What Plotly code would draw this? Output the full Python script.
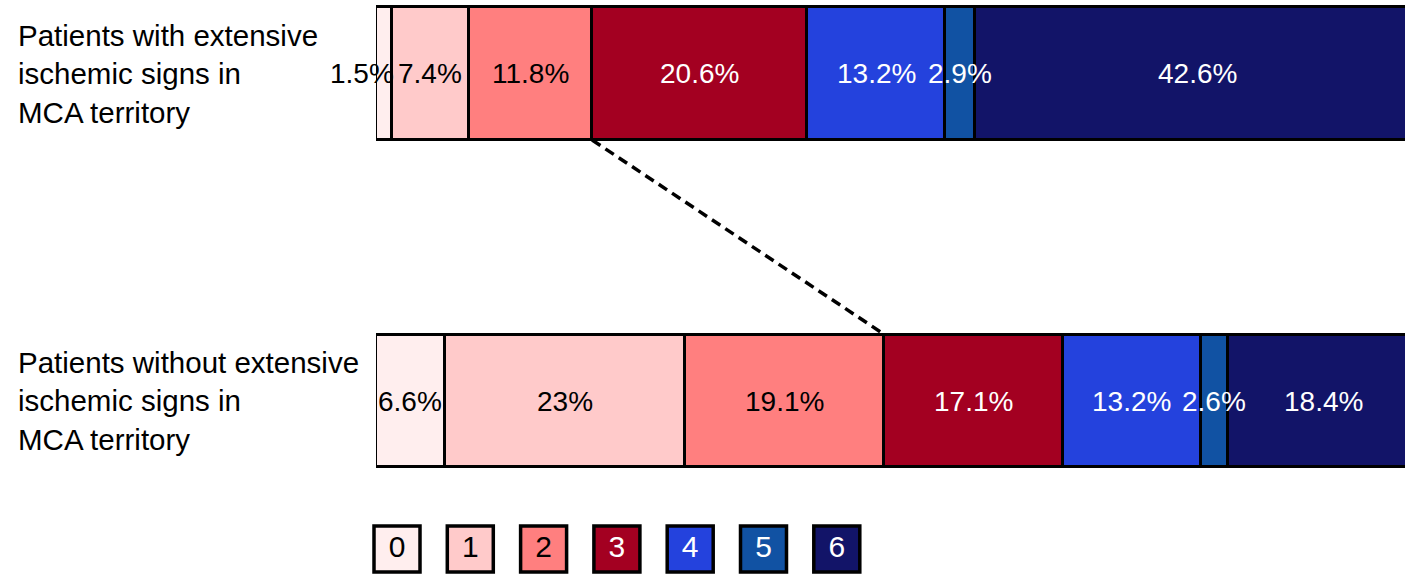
import plotly.graph_objects as go

# ---- data ----
row_labels = [
    "Patients with extensive<br>ischemic signs in<br>MCA territory",
    "Patients without extensive<br>ischemic signs in<br>MCA territory",
]
scores = ["0", "1", "2", "3", "4", "5", "6"]
with_signs = [1.5, 7.4, 11.8, 20.6, 13.2, 2.9, 42.6]
without_signs = [6.6, 23, 19.1, 17.1, 13.2, 2.6, 18.4]

colors = ["#FFEEEE", "#FFCACA", "#FF7F7F", "#A30021", "#2442DD", "#1152A3", "#121468"]
text_colors = ["black", "black", "black", "white", "white", "white", "white"]

FONT = "Liberation Sans, Arial, sans-serif"
W, H = 1405, 576
x0_px = 376
px_per_pct = 10.44
row_y = [1, 0]            # top row, bottom row
bar_w = 0.406
px_per_unit = 327.5
y_top = 1 + 73.5 / px_per_unit
y_bot = y_top - H / px_per_unit

series = [with_signs, without_signs]

fig = go.Figure()
for i, s in enumerate(scores):
    fig.add_trace(go.Bar(
        orientation="h",
        x=[with_signs[i], without_signs[i]],
        y=row_y,
        width=bar_w,
        name=s,
        marker=dict(color=colors[i], line=dict(color="black", width=3.5)),
        textposition="none",
        hoverinfo="skip",
        showlegend=False,
    ))

annotations = []
for r, vals in enumerate(series):
    cum = 0
    for i, v in enumerate(vals):
        tiny = v < 2
        annotations.append(dict(
            x=(cum + v) if tiny else (cum + v / 2), y=row_y[r], xref="x", yref="y",
            xanchor="right" if tiny else "center",
            xshift=4 if tiny else 0,
            text=f"{v:g}%", showarrow=False,
            font=dict(family=FONT, size=28, color=text_colors[i]),
        ))
        cum += v
    annotations.append(dict(
        x=16 / W, y=row_y[r], xref="paper", yref="y",
        xanchor="left", yanchor="middle", align="left",
        text=row_labels[r], showarrow=False,
        font=dict(family=FONT, size=29.5, color="black"),
    ))

# dashed connector at the end of score 2
cut_top = sum(with_signs[:3])
cut_bot = sum(without_signs[:3])
fig.add_trace(go.Scatter(
    x=[cut_top, cut_bot],
    y=[row_y[0] - bar_w / 2, row_y[1] + bar_w / 2],
    mode="lines",
    line=dict(color="black", width=3.5, dash="10px,6px"),
    hoverinfo="skip", showlegend=False, cliponaxis=False,
))

# legend boxes
fig.add_trace(go.Scatter(
    x=list(range(len(scores))),
    y=[y_top - 549 / px_per_unit] * len(scores),
    xaxis="x2",
    mode="markers+text",
    text=scores,
    textposition="middle center",
    textfont=dict(family=FONT, size=30, color=text_colors),
    marker=dict(symbol="square", size=46, color=colors,
                line=dict(color="black", width=3.5)),
    hoverinfo="skip", showlegend=False, cliponaxis=False,
))

xmax = (W - x0_px) / px_per_pct
leg_spacing = 73.3
leg_c0 = 397
fig.update_layout(
    width=W, height=H,
    margin=dict(l=0, r=0, t=0, b=0),
    paper_bgcolor="white", plot_bgcolor="rgba(0,0,0,0)",
    barmode="stack",
    bargap=0,
    xaxis=dict(domain=[x0_px / W, 1], range=[0, xmax], visible=False, fixedrange=True),
    xaxis2=dict(domain=[(leg_c0 - leg_spacing / 2) / W, (leg_c0 + 6.5 * leg_spacing) / W],
                range=[-0.5, 6.5], anchor="y", visible=False),
    yaxis=dict(domain=[0, 1], range=[y_bot, y_top], visible=False),
    annotations=annotations,
    showlegend=False,
)

fig.write_html("out.html")
